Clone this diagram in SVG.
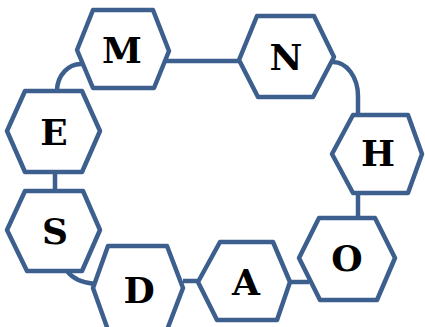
<svg xmlns="http://www.w3.org/2000/svg" width="425" height="327" viewBox="0 0 425 327">
<style>
.hex{fill:#fff;stroke:#3d5f8e;stroke-width:4.5;stroke-linejoin:round}
.con{fill:none;stroke:#3d5f8e;stroke-width:4.5}
.lbl{font-family:"DejaVu Serif","Liberation Serif",serif;font-weight:bold;font-size:36px;fill:#000;text-anchor:middle;dominant-baseline:central}
</style>
<rect width="425" height="327" fill="#fff"/>
<g id="connectors">
<path class="con" d="M57,91 A24,27 0 0 1 83,64"/>
<line class="con" x1="165" y1="61" x2="240" y2="61"/>
<path class="con" d="M333,62 A25,34 0 0 1 358,96 L358,115"/>
<line class="con" x1="358" y1="193" x2="358" y2="218"/>
<line class="con" x1="290" y1="282" x2="309" y2="282"/>
<line class="con" x1="183" y1="281" x2="198" y2="281"/>
<path class="con" d="M67,271 Q75,282 95,284"/>
<line class="con" x1="55" y1="172" x2="55" y2="191"/>
</g>
<g id="M"><polygon class="hex" points="77,50 93,10 153,10 169,51 154,88 93,88"/><text class="lbl" x="122" y="50">M</text></g>
<g id="N"><polygon class="hex" points="239,60 257,16 314,16 334,57 313,97 258,97"/><text class="lbl" x="286" y="57">N</text></g>
<g id="H"><polygon class="hex" points="332,154 353,115 408,115 422,154 408,193 353,193"/><text class="lbl" x="378" y="153">H</text></g>
<g id="O"><polygon class="hex" points="299,258 319,218 375,218 395,258 377,300 320,300"/><text class="lbl" x="347" y="258">O</text></g>
<g id="A"><polygon class="hex" points="198,282 220,242 273,242 290,282 277,320 217,320"/><text class="lbl" x="246" y="282">A</text></g>
<g id="D"><polygon class="hex" points="93,288 108,246 167,246 183,288 167,330 108,330"/><text class="lbl" x="139" y="290">D</text></g>
<g id="S"><polygon class="hex" points="7,230 25,191 83,191 100,230 82,271 27,271"/><text class="lbl" x="55" y="231">S</text></g>
<g id="E"><polygon class="hex" points="7,131 25,91 82,91 100,131 82,172 25,172"/><text class="lbl" x="54" y="132">E</text></g>
</svg>
